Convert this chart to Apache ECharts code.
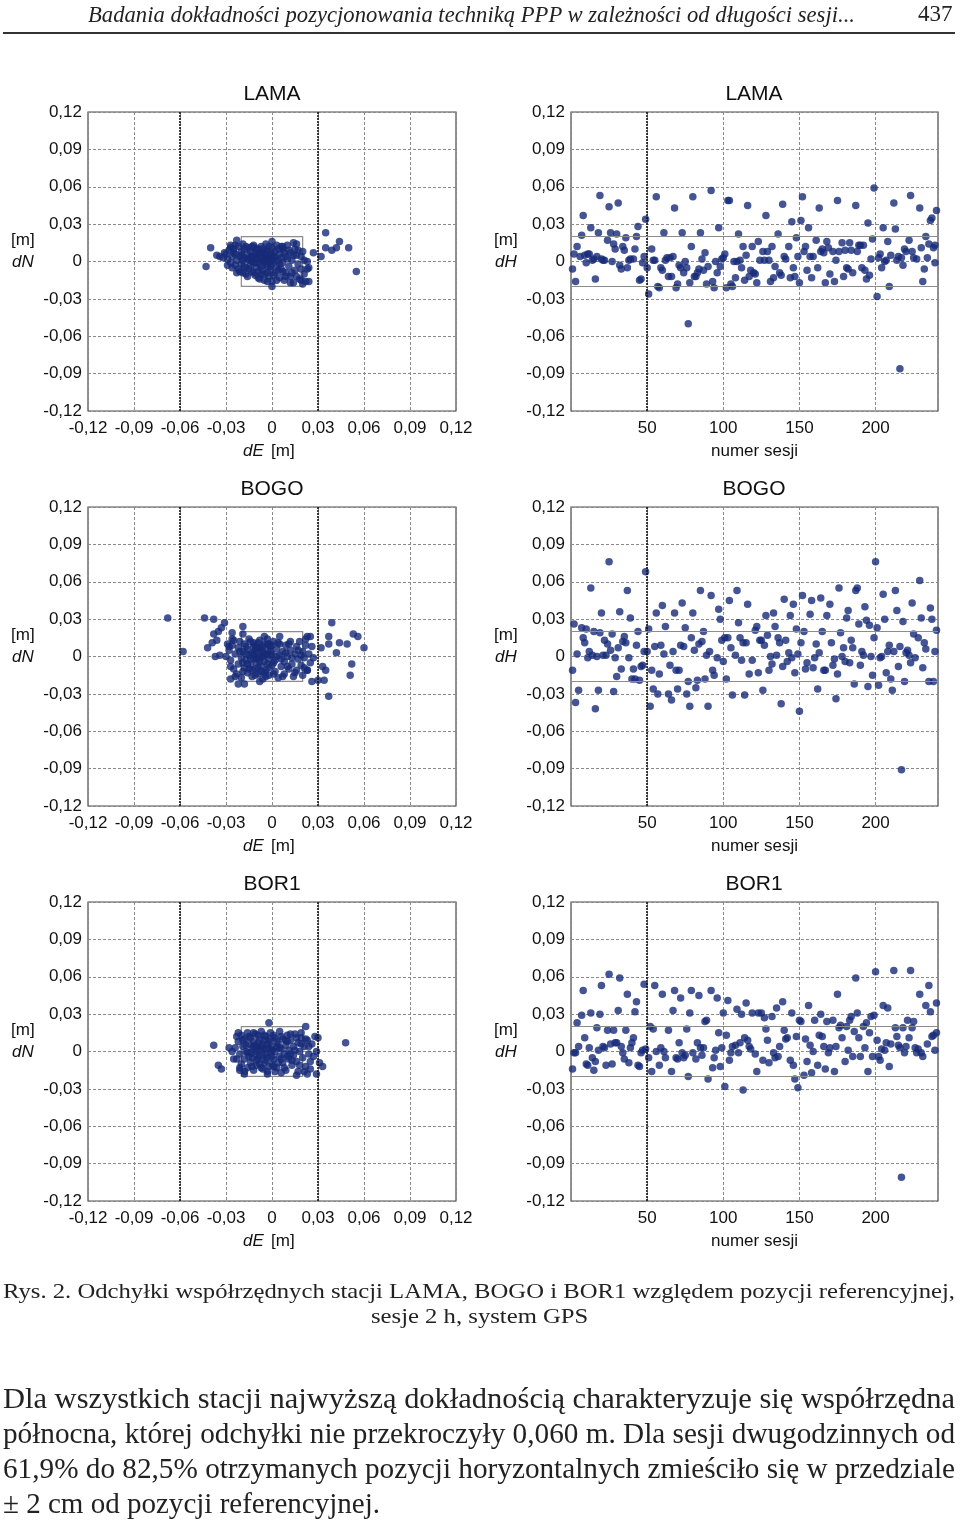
<!DOCTYPE html>
<html>
<head>
<meta charset="utf-8">
<script src="https://cdn.jsdelivr.net/npm/echarts/dist/echarts.min.js"></script>
<style>
body{margin:0;background:#fff;}
#page{position:relative;width:960px;height:1523px;overflow:hidden;background:#fff;}
#main{position:absolute;left:0;top:0;width:960px;height:1523px;}
.t{position:absolute;white-space:nowrap;line-height:1;font-family:'Liberation Serif','DejaVu Serif',serif;color:#222;transform-origin:0 0;}
</style>
</head>
<body>
<div id="page">
<div id="main"></div>
<div id="hdr" class="t" style="left:88px;top:3px;font-size:23px;font-style:italic;">Badania dokładności pozycjonowania techniką PPP w zależności od długości sesji...</div>
<div id="pgno" class="t" style="left:918px;top:2px;font-size:23px;">437</div>
<div style="position:absolute;left:3px;top:32px;width:952px;height:2px;background:#333;"></div>
<div id="cap1" class="t" style="left:3px;top:1280px;font-size:22px;">Rys. 2. Odchyłki współrzędnych stacji LAMA, BOGO i BOR1 względem pozycji referencyjnej,</div>
<div id="cap2" class="t" style="left:377px;top:1305px;font-size:22px;">sesje 2 h, system GPS</div>
<div id="b1" class="t" style="left:3px;top:1384px;font-size:29px;">Dla wszystkich stacji najwyższą dokładnością charakteryzuje się współrzędna</div>
<div id="b2" class="t" style="left:3px;top:1419px;font-size:29px;">północna, której odchyłki nie przekroczyły 0,060 m. Dla sesji dwugodzinnych od</div>
<div id="b3" class="t" style="left:3px;top:1454px;font-size:29px;">61,9% do 82,5% otrzymanych pozycji horyzontalnych zmieściło się w przedziale</div>
<div id="b4" class="t" style="left:3px;top:1489px;font-size:29px;">± 2 cm od pozycji referencyjnej.</div>
</div>
<script>
// stretch the page text lines to the widths of the printed page
function fit(id, w) {
    var el = document.getElementById(id);
    var s = w / el.getBoundingClientRect().width;
    el.style.transform = 'scaleX(' + s + ')';
    return s;
}
fit('hdr', 767);
var cs = fit('cap1', 952);
var c2 = document.getElementById('cap2');
var c2w = c2.getBoundingClientRect().width * cs;
c2.style.transform = 'scaleX(' + cs + ')';
c2.style.left = (479.5 - c2w / 2) + 'px';
fit('b1', 952);
fit('b2', 952);
fit('b3', 952);
fit('b4', 377);

var stations = ['LAMA', 'BOGO', 'BOR1'];

// dE, dN [m]
var lamaEN = [
[-0.030,0.006],[-0.029,0.002],[-0.028,0.009],[-0.027,-0.001],[-0.026,0.004],[-0.025,0.010],[-0.024,-0.003],[-0.024,0.006],[-0.023,0.001],[-0.022,0.012],
[-0.022,-0.006],[-0.021,0.004],[-0.020,0.008],[-0.020,-0.002],[-0.019,0.014],[-0.019,-0.009],[-0.018,0.003],[-0.018,0.010],[-0.017,-0.005],[-0.016,0.006],
[-0.016,-0.012],[-0.015,0.001],[-0.015,0.011],[-0.014,-0.003],[-0.014,0.008],[-0.013,-0.008],[-0.013,0.004],[-0.012,0.013],[-0.012,-0.001],[-0.011,0.007],
[-0.011,-0.011],[-0.010,0.002],[-0.010,-0.005],[-0.009,0.010],[-0.009,0.005],[-0.008,-0.002],[-0.008,-0.014],[-0.007,0.003],[-0.007,0.012],[-0.006,-0.007],
[-0.006,0.007],[-0.005,0.000],[-0.005,-0.010],[-0.004,0.004],[-0.004,0.014],[-0.003,-0.004],[-0.003,0.009],[-0.002,-0.012],[-0.002,0.002],[-0.001,0.006],
[-0.001,-0.007],[0.000,0.011],[0.000,-0.002],[0.000,-0.016],[0.001,0.004],[0.002,-0.009],[0.002,0.008],[0.003,-0.004],[0.003,0.013],[0.004,0.001],
[0.005,-0.013],[0.005,0.006],[0.006,-0.006],[0.007,0.010],[0.007,-0.001],[0.008,-0.015],[0.009,0.004],[0.009,-0.009],[0.010,0.013],[0.011,-0.004],
[0.012,0.007],[0.012,-0.012],[0.013,0.001],[0.014,-0.017],[0.015,0.010],[0.015,-0.007],[0.016,0.014],[0.017,-0.002],[0.018,-0.014],[0.019,0.004],
[0.020,-0.018],[0.021,-0.010],[0.022,-0.016],[0.023,-0.006],
[-0.006,0.001],[-0.004,-0.002],[-0.002,0.004],[-0.008,0.006],[-0.010,-0.001],[-0.012,0.004],[-0.001,-0.004],[0.001,0.001],[-0.007,-0.004],[-0.003,0.002],
[-0.005,0.006],[-0.009,-0.008],[-0.013,0.000],[0.004,-0.007],[0.006,0.003],[-0.016,0.002],[-0.018,-0.004],[-0.020,0.005],
[-0.032,0.003],[-0.031,0.007],[-0.029,-0.003],[-0.027,0.011],[-0.026,-0.005],[-0.024,0.013],[-0.021,-0.008],[-0.019,0.001],[-0.017,0.012],[-0.017,-0.010],
[-0.015,-0.006],[-0.014,0.003],[-0.012,-0.009],[-0.011,0.011],[-0.010,0.009],[-0.009,-0.013],[-0.008,0.003],[-0.007,-0.010],[-0.006,0.010],[-0.005,-0.015],
[-0.004,0.008],[-0.003,-0.009],[-0.002,0.012],[-0.001,0.000],[0.000,0.006],[0.001,-0.011],[0.002,0.003],[0.003,-0.015],[0.004,0.010],[0.005,-0.002],
[0.006,0.012],[0.007,-0.008],[0.008,0.007],[0.009,-0.012],[0.010,0.002],[0.011,0.009],[0.013,-0.009],[0.014,0.005],[0.016,-0.012],[0.017,0.009],
[0.019,-0.006],[0.021,0.001],
[-0.043,-0.004],[-0.040,0.011],[-0.036,0.005],[-0.034,0.004],[-0.027,0.013],[-0.023,0.017],[-0.025,0.007],[-0.023,-0.009],[0.035,0.023],[0.044,0.016],
[0.042,0.011],[0.039,0.009],[0.035,0.011],[0.032,0.004],[0.050,0.011],[0.055,-0.008],[0.027,0.007],[0.024,-0.005],[0.023,0.000],[0.024,-0.016],
[0.019,-0.015],[0.020,0.008],[0.016,0.005],[0.014,0.015],[0.012,-0.017],[0.000,-0.020],[0.000,0.016],[-0.003,-0.016],[-0.013,0.012],[0.007,0.012]
];
var bogoEN = [
[-0.028,0.005],[-0.027,-0.003],[-0.026,0.009],[-0.025,-0.010],[-0.024,0.002],[-0.023,-0.014],[-0.022,0.007],[-0.022,-0.006],[-0.021,0.012],[-0.020,-0.001],
[-0.020,-0.017],[-0.019,0.004],[-0.018,-0.009],[-0.018,0.010],[-0.017,-0.003],[-0.016,0.006],[-0.016,-0.013],[-0.015,0.001],[-0.014,-0.007],[-0.014,0.012],
[-0.013,0.003],[-0.013,-0.016],[-0.012,-0.002],[-0.012,0.008],[-0.011,-0.010],[-0.010,0.004],[-0.010,-0.005],[-0.009,0.011],[-0.009,-0.014],[-0.008,0.000],
[-0.008,0.007],[-0.007,-0.008],[-0.006,0.003],[-0.006,-0.018],[-0.005,0.010],[-0.005,-0.004],[-0.004,-0.011],[-0.003,0.005],[-0.003,0.014],[-0.002,-0.002],
[-0.002,-0.015],[-0.001,0.008],[0.000,-0.007],[0.000,0.002],[0.001,0.012],[0.002,-0.012],[0.002,-0.003],[0.003,0.006],[0.004,-0.017],[0.005,0.001],
[0.005,0.010],[0.006,-0.008],[0.007,0.004],[0.008,-0.004],[0.008,-0.014],[0.009,0.009],[0.010,0.000],[0.011,-0.010],[0.012,0.005],[0.012,0.012],
[0.013,-0.006],[0.014,-0.016],[0.015,0.002],[0.016,0.008],[0.016,-0.011],[0.017,-0.002],[0.018,0.012],[0.019,-0.007],[0.020,0.004],[0.020,-0.015],
[0.021,-0.001],[0.022,0.009],[0.023,-0.011],[0.024,0.002],
[-0.012,0.002],[-0.010,-0.001],[-0.008,-0.004],[-0.006,0.000],[-0.004,0.002],[-0.011,0.005],[-0.014,-0.002],[-0.007,0.005],[-0.003,-0.006],[-0.009,-0.009],
[-0.015,-0.010],[-0.005,-0.013],[-0.001,0.004],[-0.017,0.002],[-0.019,-0.005],[0.001,-0.005],[-0.002,0.010],[-0.011,0.009],
[-0.030,0.000],[-0.029,0.010],[-0.027,-0.008],[-0.025,0.013],[-0.024,-0.016],[-0.021,0.004],[-0.019,-0.012],[-0.017,0.008],[-0.016,-0.006],[-0.015,0.014],
[-0.013,-0.011],[-0.012,0.011],[-0.011,-0.015],[-0.010,0.007],[-0.009,-0.002],[-0.008,0.013],[-0.007,-0.012],[-0.006,0.008],[-0.005,0.001],[-0.004,-0.016],
[-0.003,0.010],[-0.002,-0.009],[-0.001,0.001],[0.000,0.009],[0.001,-0.014],[0.003,0.000],[0.004,0.011],[0.006,-0.002],[0.007,-0.016],[0.009,0.003],
[0.010,-0.008],[0.011,0.010],[0.013,-0.001],[0.015,-0.013],[0.017,0.005],[0.019,0.001],[0.021,-0.009],[0.022,0.014],[0.025,-0.005],[0.026,0.008],
[-0.068,0.031],[-0.058,0.004],[-0.044,0.031],[-0.038,0.030],[-0.031,0.027],[-0.033,0.023],[-0.035,0.020],[-0.038,0.018],[-0.039,0.011],[-0.042,0.007],
[-0.036,0.013],[-0.026,0.019],[-0.019,0.024],[-0.026,0.014],[-0.028,0.008],[-0.037,0.000],[-0.034,0.001],[-0.027,-0.018],[-0.022,-0.022],[-0.018,-0.022],
[-0.008,-0.020],[0.039,0.027],[0.037,0.016],[0.053,0.018],[0.056,0.016],[0.060,0.007],[0.049,0.010],[0.044,0.011],[0.042,0.003],[0.037,0.010],
[0.032,0.007],[0.033,-0.008],[0.035,-0.011],[0.052,-0.006],[0.051,-0.015],[0.037,-0.032],[0.034,-0.019],[0.030,-0.019],[0.026,-0.020],[0.023,-0.011],
[0.027,-0.001],[0.025,0.016],[0.023,0.016],[0.005,0.016],[-0.005,0.016],[-0.019,0.018]
];
var bor1EN = [
[-0.022,0.008],[-0.021,-0.002],[-0.020,0.013],[-0.020,-0.010],[-0.019,0.004],[-0.018,-0.006],[-0.018,0.010],[-0.017,0.000],[-0.016,-0.013],[-0.016,0.015],
[-0.015,0.006],[-0.015,-0.004],[-0.014,-0.009],[-0.014,0.011],[-0.013,0.002],[-0.012,-0.015],[-0.012,0.008],[-0.011,-0.002],[-0.011,0.014],[-0.010,0.004],
[-0.010,-0.011],[-0.009,-0.006],[-0.008,0.010],[-0.008,0.001],[-0.007,-0.013],[-0.007,0.016],[-0.006,-0.003],[-0.006,0.006],[-0.005,-0.009],[-0.004,0.012],
[-0.004,0.002],[-0.003,-0.005],[-0.003,-0.016],[-0.002,0.008],[-0.001,-0.001],[-0.001,0.015],[0.000,-0.010],[0.000,0.004],[0.001,-0.006],[0.002,0.011],
[0.002,0.000],[0.003,-0.013],[0.004,0.006],[0.005,-0.004],[0.005,0.016],[0.006,0.002],[0.007,-0.009],[0.007,0.010],[0.008,-0.002],[0.009,-0.015],
[0.009,0.005],[0.010,0.013],[0.011,-0.006],[0.011,0.001],[0.012,0.009],[0.013,-0.011],[0.014,0.004],[0.014,-0.003],[0.015,0.014],[0.016,-0.008],
[0.017,0.007],[0.017,-0.016],[0.018,0.000],[0.019,0.011],[0.020,-0.005],[0.021,0.004],[0.022,-0.012],[0.023,0.009],[0.024,-0.002],[0.025,-0.008],
[0.026,0.006],
[-0.010,0.000],[-0.008,-0.004],[-0.006,0.002],[-0.004,-0.002],[-0.002,0.003],[-0.012,0.004],[-0.013,-0.005],[0.000,0.001],[0.003,0.003],[-0.009,0.007],
[-0.005,0.009],[0.006,-0.006],[0.001,-0.012],[-0.016,-0.001],[0.010,0.008],[0.012,-0.002],
[-0.024,0.003],[-0.023,-0.006],[-0.022,0.015],[-0.021,-0.013],[-0.019,0.009],[-0.018,-0.016],[-0.017,0.005],[-0.015,0.012],[-0.014,-0.001],[-0.013,-0.012],
[-0.012,0.015],[-0.011,0.005],[-0.010,-0.007],[-0.009,0.013],[-0.008,-0.010],[-0.007,0.004],[-0.006,-0.014],[-0.005,0.013],[-0.004,-0.007],[-0.003,0.006],
[-0.002,-0.012],[-0.001,0.010],[0.000,-0.004],[0.001,0.013],[0.002,-0.016],[0.003,0.008],[0.004,-0.009],[0.005,0.003],[0.006,0.012],[0.008,-0.013],
[0.009,0.009],[0.010,-0.004],[0.012,0.014],[0.013,-0.007],[0.015,0.001],[0.016,0.011],[0.018,-0.011],[0.019,0.006],[0.021,-0.016],[0.022,0.010],
[0.024,0.004],[0.027,-0.004],
[-0.038,0.005],[-0.035,-0.011],[-0.033,-0.014],[-0.028,0.003],[-0.026,0.000],[-0.025,-0.006],[-0.023,0.012],[-0.021,-0.015],[-0.018,-0.018],[-0.002,0.023],
[0.022,0.020],[0.019,0.015],[0.028,0.012],[0.030,0.011],[0.029,0.000],[0.031,-0.009],[0.033,-0.012],[0.029,-0.018],[0.048,0.007],[0.025,-0.014],
[0.023,-0.018],[0.016,-0.019],[0.006,-0.017],[-0.003,-0.018]
];

// session number, dH [m]
var lamaH = [
[1,-0.006],[2,0.006],[3,-0.016],[4,0.012],[6,0.004],[7,0.021],[8,0.037],[9,0.005],[10,-0.001],[11,0.006],[12,0.006],[13,0.027],[14,0.001],[15,0.002],
[16,-0.014],[17,0.004],[18,0.023],[19,0.053],[20,0.002],[21,0.001],[22,0.001],[24,0.017],[25,0.044],[26,0.023],[27,0.000],[28,0.014],[29,0.010],[30,0.022],
[31,0.047],[32,-0.003],[33,-0.006],[34,0.012],[35,0.009],[36,0.019],[37,-0.005],[38,0.001],[39,0.002],[41,0.002],[42,0.010],[43,0.020],[44,0.028],[45,-0.015],
[46,-0.014],[47,-0.001],[48,0.004],[49,0.034],[50,-0.005],
[51,-0.026],[53,0.010],[54,0.001],[55,0.001],[56,0.052],[57,-0.020],[58,-0.021],[59,-0.005],[60,-0.007],[61,0.023],[62,0.001],[63,0.003],[64,-0.012],
[65,0.003],[66,-0.012],[67,0.004],[68,0.043],[69,-0.021],[70,-0.018],[71,-0.003],[72,-0.005],[73,0.023],[74,-0.009],[75,0.000],[76,-0.005],[77,-0.050],
[78,-0.017],[79,0.012],[80,0.052],[81,-0.012],[82,-0.012],[83,-0.009],[84,-0.006],[85,0.023],[86,0.002],[87,-0.007],[88,0.007],[89,-0.018],[90,-0.004],
[92,0.057],[93,-0.016],[94,-0.021],[95,0.000],[96,-0.009],[97,0.027],[98,-0.004],[99,0.002],[100,0.003],
[101,0.006],[102,-0.021],[103,0.049],[104,0.049],[105,-0.018],[106,-0.020],[107,0.000],[108,-0.013],[109,0.000],[110,0.022],[111,0.001],[112,-0.005],
[113,0.012],[114,-0.015],[115,0.005],[116,0.045],[117,-0.012],[118,-0.007],[119,0.012],[120,-0.009],[121,-0.010],[122,-0.017],[123,0.016],[124,0.001],
[126,0.008],[127,0.001],[128,0.037],[129,0.008],[130,0.001],[131,-0.016],[132,0.012],[133,-0.013],[134,-0.004],[136,0.022],[137,-0.009],[138,-0.011],
[139,0.046],[140,0.004],[141,0.002],[143,0.012],[144,-0.013],[145,0.032],[146,-0.005],[147,-0.012],[148,0.019],[149,0.004],[150,-0.017],
[151,0.033],[152,0.052],[153,0.008],[154,0.012],[155,-0.007],[156,0.027],[157,0.004],[158,-0.013],[159,0.004],[161,0.017],[162,-0.005],[163,0.043],
[164,0.008],[165,0.010],[166,0.007],[167,-0.017],[168,0.016],[169,0.011],[170,-0.010],[172,0.008],[173,-0.016],[174,0.001],[175,0.049],[176,0.008],
[178,0.015],[179,-0.012],[180,0.009],[181,-0.005],[182,-0.006],[183,0.015],[184,0.009],[185,-0.009],[187,0.045],[188,0.008],[189,0.013],[190,0.013],
[191,-0.005],[192,0.013],[193,-0.007],[194,-0.014],[195,0.031],[196,-0.011],[197,0.002],[198,0.018],[199,0.059],
[201,-0.028],[202,0.003],[203,0.006],[204,-0.005],[205,0.027],[206,0.000],[207,0.001],[208,0.016],[209,-0.020],[210,0.005],[212,0.047],[213,0.026],
[214,0.001],[215,0.004],[216,-0.086],[217,0.003],[218,-0.003],[219,0.010],[220,0.008],[222,0.017],[223,0.053],[224,0.008],[225,0.003],[227,0.002],
[229,0.043],[230,0.011],[231,-0.016],[232,-0.006],[233,0.020],[234,0.003],[235,0.014],[236,0.033],[237,0.035],[238,0.011],[239,-0.001],[239,0.013],[240,0.041]
];
var bogoH = [
[1,-0.011],[2,0.026],[3,-0.037],[4,0.002],[5,-0.027],[7,0.023],[8,0.015],[9,0.011],[10,0.022],[11,-0.001],[12,0.004],[13,0.055],[14,0.001],[15,0.020],
[16,-0.042],[17,0.000],[18,-0.027],[19,0.019],[20,0.035],[21,0.001],[22,0.013],[23,0.001],[24,0.010],[25,0.076],[26,0.005],[27,0.018],[28,-0.028],
[29,-0.001],[30,-0.016],[31,0.007],[32,0.036],[33,-0.010],[34,0.012],[35,0.016],[36,0.011],[37,0.053],[38,-0.001],[39,0.031],[40,-0.018],[41,-0.010],
[42,-0.018],[43,0.009],[44,0.020],[45,-0.019],[46,-0.008],[47,-0.007],[48,0.004],[49,0.068],
[50,0.004],[51,0.022],[52,-0.040],[53,-0.011],[54,-0.026],[55,0.008],[56,0.035],[57,-0.030],[58,-0.014],[59,0.009],[60,0.041],[61,0.002],[62,0.024],
[64,-0.030],[65,-0.007],[66,-0.035],[67,0.004],[68,0.035],[69,-0.011],[70,-0.026],[71,-0.011],[72,0.009],[73,0.043],[74,0.008],[75,0.023],[76,-0.030],
[77,-0.020],[78,-0.040],[79,0.015],[80,0.035],[81,0.005],[82,-0.025],[83,-0.019],[84,0.010],[85,0.053],[86,0.012],[87,0.020],[88,-0.018],[89,0.001],
[90,-0.040],[91,0.004],[92,0.049],[93,-0.011],[94,-0.015],[96,-0.001],[97,0.038],[98,0.030],[99,0.013],
[100,-0.004],[101,0.015],[102,-0.018],[103,0.015],[104,0.045],[105,0.007],[106,-0.031],[108,0.001],[109,0.053],[110,0.027],[111,0.015],[112,-0.003],
[113,0.011],[114,-0.031],[115,0.011],[116,0.042],[117,-0.014],[119,-0.003],[121,0.021],[122,0.024],[123,-0.013],[124,0.013],[125,0.013],[126,-0.027],
[127,0.009],[128,0.033],[129,0.017],[130,-0.011],[131,0.000],[132,-0.006],[133,0.035],[134,0.024],[135,0.001],[136,0.015],[137,0.011],[138,-0.038],
[139,-0.008],[140,0.046],[141,0.013],[142,-0.004],[143,0.003],[144,0.033],[145,-0.001],[146,0.042],[147,-0.013],[148,0.022],[149,0.002],
[150,-0.044],[151,0.011],[152,0.049],[153,0.020],[154,-0.010],[155,-0.005],[157,0.034],[158,0.045],[159,-0.009],[160,-0.001],[161,0.010],[162,-0.026],
[163,0.003],[164,0.047],[165,0.020],[166,-0.011],[167,-0.011],[168,0.033],[170,0.042],[171,0.011],[172,-0.007],[173,-0.002],[174,-0.034],[175,-0.014],
[176,0.055],[177,0.019],[178,0.000],[179,0.007],[180,-0.004],[181,0.031],[182,0.037],[183,-0.005],[184,0.013],[185,0.007],[186,-0.022],[187,0.053],
[188,0.055],[189,0.026],[190,-0.007],[191,0.004],[192,0.001],[193,0.040],[194,0.029],[195,-0.024],[196,0.025],[197,0.000],[198,-0.015],[199,0.015],
[200,0.076],[201,0.023],[202,-0.023],[203,-0.001],[204,0.000],[205,0.050],[206,0.030],[207,-0.013],[208,0.004],[209,0.009],[210,-0.018],[211,-0.027],
[212,0.004],[213,0.053],[214,0.037],[215,-0.008],[216,0.008],[217,-0.091],[218,0.028],[219,-0.020],[220,0.003],[221,0.005],[222,0.001],[223,-0.005],
[224,0.043],[225,0.018],[226,-0.001],[228,0.015],[229,0.061],[230,0.031],[231,-0.009],[232,0.011],[233,0.006],[235,-0.020],[236,0.039],[237,0.030],
[238,-0.020],[239,0.004],[240,0.021]
];
var bor1H = [
[1,-0.014],[2,-0.001],[3,-0.001],[4,0.023],[5,0.004],[7,0.029],[8,0.049],[9,0.011],[10,-0.010],[11,-0.011],[12,0.003],[13,0.031],[14,-0.005],[15,-0.015],
[16,-0.008],[17,0.019],[18,0.001],[19,0.030],[20,0.053],[21,0.004],[22,0.003],[23,-0.011],[24,0.017],[25,0.062],[26,0.006],[27,-0.010],[28,0.017],
[29,0.007],[30,0.007],[31,0.033],[32,0.059],[33,0.004],[34,-0.001],[35,-0.006],[36,0.017],[37,0.046],[38,-0.009],[39,0.003],[40,0.007],[41,0.011],
[42,0.032],[43,0.040],[44,-0.011],[45,-0.012],[46,-0.001],[47,0.001],[48,0.054],[49,0.002],
[51,-0.005],[52,0.020],[53,-0.016],[54,0.018],[55,0.053],[56,0.000],[58,-0.011],[59,0.003],[60,0.046],[61,0.000],[62,-0.005],[64,0.017],[66,-0.016],
[67,0.033],[68,0.049],[69,-0.005],[70,-0.006],[71,0.007],[72,0.043],[73,-0.001],[74,-0.005],[75,-0.003],[76,0.018],[77,-0.020],[78,0.031],[79,0.049],
[80,-0.001],[82,-0.006],[83,0.007],[84,0.045],[85,0.003],[86,-0.003],[87,0.003],[88,0.024],[89,0.025],[90,-0.022],[92,0.049],[93,-0.013],[94,-0.005],
[95,0.001],[96,0.043],[97,0.015],[98,-0.012],[99,0.003],
[100,0.031],[101,-0.028],[102,0.013],[103,0.041],[104,-0.007],[105,-0.001],[106,0.004],[108,0.005],[109,0.034],[110,-0.001],[111,0.007],[112,0.030],
[113,-0.031],[114,0.011],[115,0.039],[116,0.009],[117,0.004],[118,0.002],[119,0.031],[121,-0.002],[122,-0.016],[123,0.031],[125,0.031],[126,-0.007],
[127,0.027],[128,0.018],[129,0.009],[130,-0.009],[132,0.028],[133,-0.001],[134,-0.005],[135,0.035],[136,-0.004],[137,0.004],[139,0.040],[140,0.017],
[141,0.010],[142,0.011],[144,-0.007],[145,0.031],[146,-0.011],[147,-0.022],[148,0.012],[149,-0.029],
[150,0.025],[151,0.024],[153,-0.019],[154,0.010],[155,-0.008],[156,0.037],[157,0.005],[158,-0.017],[159,0.000],[160,0.025],[162,-0.011],[163,0.013],
[164,0.030],[165,0.012],[166,0.004],[167,-0.014],[168,0.024],[169,-0.001],[170,0.003],[172,0.025],[173,-0.016],[174,0.004],[175,0.046],[176,0.019],
[177,0.021],[178,0.011],[180,-0.008],[181,0.020],[182,0.001],[183,0.025],[184,0.028],[185,-0.004],[186,0.016],[187,0.059],[188,0.031],[189,0.011],
[190,-0.004],[192,0.020],[193,0.003],[194,0.023],[195,-0.016],[196,0.015],[197,0.028],[198,-0.004],[199,0.029],
[200,0.064],[201,0.009],[202,-0.004],[203,-0.007],[204,0.002],[205,0.037],[206,0.001],[207,0.007],[208,0.035],[209,-0.012],[210,0.006],[212,0.065],
[213,0.019],[214,0.012],[215,0.005],[216,0.003],[217,-0.101],[218,0.019],[219,-0.001],[220,0.004],[221,0.025],[222,0.011],[223,0.065],[224,0.019],
[225,0.024],[226,0.003],[227,-0.001],[228,0.002],[229,0.046],[230,-0.001],[231,-0.004],[233,0.037],[234,0.006],[235,0.053],[236,0.032],[237,0.012],
[238,0.013],[239,0.001],[240,0.015],[240,0.039]
];
var enData = [lamaEN, bogoEN, bor1EN];
var hData = [lamaH, bogoH, bor1H];

// reference marks: +-2 cm box / band, dark grid lines
var band = [-0.02, 0.02];
var darkLinesEN = [-0.06, 0.03];
var darkLinesH = [50];

var FONT = "'Liberation Sans', Arial, sans-serif";
var INK = '#111';
var DOT = '#172b78';

function fmt(v) {
    if (Math.abs(v) < 1e-9) return '0';
    return v.toFixed(2).replace('.', ',');
}
function fmtSes(v) {
    return (v > 0 && v % 50 === 0) ? String(v) : '';
}

function build(fancy) {
    var grids = [], xAxes = [], yAxes = [], series = [], graphics = [];
    var gridDash = fancy ? [3, 2] : 'dashed';
    var darkDash = fancy ? [2, 1] : 'dashed';
    function lab(fn, m) {
        return {formatter: fn, margin: m, fontSize: 17, color: INK, fontFamily: FONT};
    }
    function split() {
        return {show: true, lineStyle: {type: gridDash, color: '#8a8a8a', width: 1}};
    }
    function txt(x, y, s, italic, size, align) {
        var st = {text: s, fontSize: size || 17, fill: INK, align: align || 'left', verticalAlign: 'middle', fontFamily: FONT};
        if (italic) st.fontStyle = 'italic';
        return {type: 'text', x: x, y: y, style: st};
    }
    for (var r = 0; r < 3; r++) {
        var top = 112 + 395 * r;
        grids.push({left: 88, top: top, width: 368, height: 299, show: true, borderColor: '#4a4a4a', borderWidth: 1.2});
        grids.push({left: 571, top: top, width: 367, height: 299, show: true, borderColor: '#4a4a4a', borderWidth: 1.2});
        xAxes.push({gridIndex: 2 * r, type: 'value', min: -0.12, max: 0.12, interval: 0.03,
            axisLine: {show: false}, axisTick: {show: false}, axisLabel: lab(fmt, 9), splitLine: split()});
        xAxes.push({gridIndex: 2 * r + 1, type: 'value', min: 0, max: 241, interval: 50,
            axisLine: {show: false}, axisTick: {show: false}, axisLabel: lab(fmtSes, 9), splitLine: split(),
            name: 'numer sesji', nameLocation: 'middle', nameGap: 32, nameTextStyle: {fontSize: 17, color: INK, fontFamily: FONT}});
        for (var k = 0; k < 2; k++) {
            yAxes.push({gridIndex: 2 * r + k, type: 'value', min: -0.12, max: 0.12, interval: 0.03,
                axisLine: {show: false}, axisTick: {show: false}, axisLabel: lab(fmt, 6), splitLine: split()});
        }
        var enLines = [], hLines = [];
        darkLinesEN.forEach(function (v) { enLines.push({xAxis: v, lineStyle: {color: '#111', type: darkDash, width: 1.6}}); });
        darkLinesH.forEach(function (v) { hLines.push({xAxis: v, lineStyle: {color: '#111', type: darkDash, width: 1.6}}); });
        band.forEach(function (v) { hLines.push({yAxis: v, lineStyle: {color: '#8c8c8c', type: 'solid', width: 1.2}}); });
        series.push({type: 'scatter', xAxisIndex: 2 * r, yAxisIndex: 2 * r, data: enData[r],
            symbol: 'circle', symbolSize: 7.5, itemStyle: {color: DOT}, silent: true,
            markArea: {silent: true, itemStyle: {color: 'rgba(0,0,0,0)', borderColor: '#8c8c8c', borderWidth: 1.2},
                data: [[{xAxis: band[0], yAxis: band[0]}, {xAxis: band[1], yAxis: band[1]}]]},
            markLine: {silent: true, symbol: ['none', 'none'], label: {show: false}, data: enLines}});
        series.push({type: 'scatter', xAxisIndex: 2 * r + 1, yAxisIndex: 2 * r + 1, data: hData[r],
            symbol: 'circle', symbolSize: 7.5, itemStyle: {color: DOT}, silent: true,
            markLine: {silent: true, symbol: ['none', 'none'], label: {show: false}, data: hLines}});
        graphics.push(txt(272, top - 18, stations[r], false, 21, 'center'), txt(754, top - 18, stations[r], false, 21, 'center'));
        graphics.push(txt(11, top + 128, '[m]'), txt(12, top + 150, 'dN', true));
        graphics.push(txt(494, top + 128, '[m]'), txt(495, top + 150, 'dH', true));
        graphics.push(txt(243, top + 339, 'dE', true), txt(271, top + 339, '[m]'));
    }
    return {animation: false, grid: grids, xAxis: xAxes, yAxis: yAxes, series: series, graphic: {elements: graphics}};
}

var el = document.getElementById('main');
var chart;
try {
    chart = echarts.init(el);
    chart.setOption(build(true));
} catch (e) {
    try { echarts.dispose(el); } catch (e2) {}
    chart = echarts.init(el);
    chart.setOption(build(false));
}
</script>
</body>
</html>
